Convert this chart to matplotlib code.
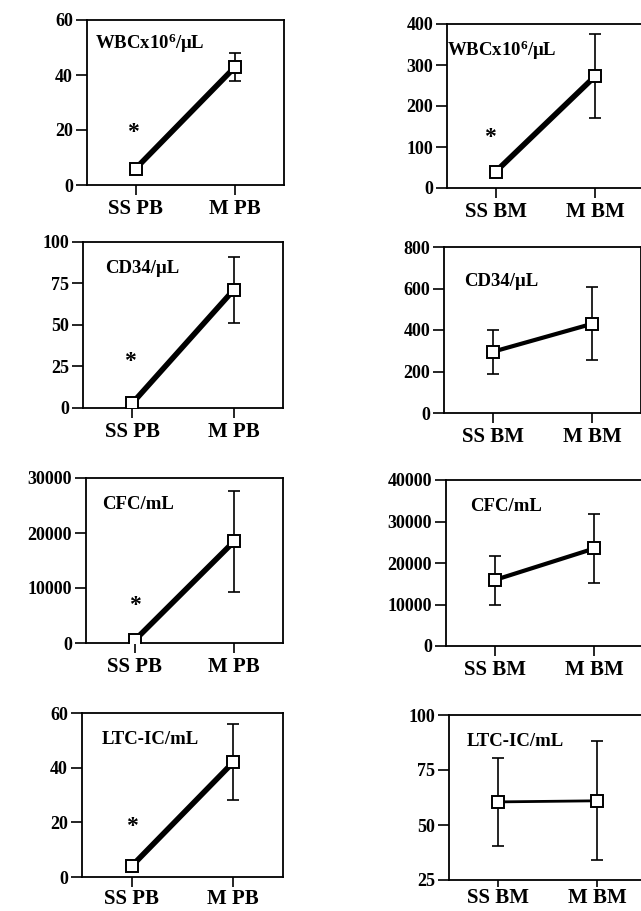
import matplotlib
matplotlib.use("Agg")
import matplotlib.pyplot as plt

plt.rcParams['font.family'] = ['Liberation Serif', 'DejaVu Serif']
plt.rcParams['font.weight'] = 'bold'
plt.rcParams['mathtext.fontset'] = 'custom'
plt.rcParams['mathtext.rm'] = 'Liberation Serif:bold'
plt.rcParams['mathtext.bf'] = 'Liberation Serif:bold'
plt.rcParams['mathtext.it'] = 'Liberation Serif:bold'

# ---- data ----
pb_labels = ["SS PB", "M PB"]
bm_labels = ["SS BM", "M BM"]

wbc_pb_mean = [6, 43]
wbc_pb_err = [0, 5]
wbc_bm_mean = [40, 273]
wbc_bm_err = [0, 103]

cd34_pb_mean = [3, 71]
cd34_pb_err = [0, 20]
cd34_bm_mean = [295, 430]
cd34_bm_err = [105, 175]

cfc_pb_mean = [500, 18500]
cfc_pb_err = [0, 9200]
cfc_bm_mean = [15900, 23500]
cfc_bm_err = [5900, 8200]

ltc_pb_mean = [4, 42]
ltc_pb_err = [0, 14]
ltc_bm_mean = [60.5, 61]
ltc_bm_err = [20, 27]

titles = [r"WBCx10$^{6}$/μL", "CD34/μL", "CFC/mL", "LTC-IC/mL"]

# ---- layout ----
W, H = 641, 911
fig = plt.figure(figsize=(W / 100, H / 100), dpi=100)

def add_ax(x0, x1, y0, y1):
    return fig.add_axes([x0 / W, 1 - y1 / H, (x1 - x0) / W, (y1 - y0) / H])

panels = [
    # (box px), labels, mean, err, ylim, yticks, title, title pos, star, linewidth, xlabel pad
    ((87, 284, 20, 185), pb_labels, wbc_pb_mean, wbc_pb_err, (0, 60), [0, 20, 40, 60], titles[0], (0.04, 0.86), (-0.03, 19), 4, 3),
    ((447, 644, 24, 188), bm_labels, wbc_bm_mean, wbc_bm_err, (0, 400), [0, 100, 200, 300, 400], titles[0], (0.0, 0.84), (-0.06, 122), 4, 3),
    ((83, 283, 242, 408), pb_labels, cd34_pb_mean, cd34_pb_err, (0, 100), [0, 25, 50, 75, 100], titles[1], (0.11, 0.84), (-0.03, 28), 4, 3),
    ((444, 641, 247, 413), bm_labels, cd34_bm_mean, cd34_bm_err, (0, 800), [0, 200, 400, 600, 800], titles[1], (0.1, 0.79), None, 3, 3),
    ((86, 283, 478, 643), pb_labels, cfc_pb_mean, cfc_pb_err, (0, 30000), [0, 10000, 20000, 30000], titles[2], (0.08, 0.84), (0.0, 6800), 4, 3),
    ((446, 643, 480, 646), bm_labels, cfc_bm_mean, cfc_bm_err, (0, 40000), [0, 10000, 20000, 30000, 40000], titles[2], (0.12, 0.84), None, 3, 3),
    ((82, 283, 713, 877), pb_labels, ltc_pb_mean, ltc_pb_err, (0, 60), [0, 20, 40, 60], titles[3], (0.1, 0.84), (0.0, 18.5), 4, 2),
    ((449, 646, 715, 880), bm_labels, ltc_bm_mean, ltc_bm_err, (25, 100), [25, 50, 75, 100], titles[3], (0.09, 0.84), None, 2, 0.5),
]

for box, labels, mean, err, ylim, yticks, title, tpos, star, lw, xpad in panels:
    x0, x1, y0, y1 = box
    ax = add_ax(x0, x1, y0, y1)
    xs = [0, 1]
    ax.errorbar(xs, mean, yerr=err, fmt='none', ecolor='black', elinewidth=1.2,
                capsize=4, capthick=1.2, zorder=2)
    ax.plot(xs, mean, color='black', lw=lw, zorder=3,
            marker='s', markersize=9, markerfacecolor='white',
            markeredgecolor='black', markeredgewidth=1.4)
    ax.set_xlim(-0.49, 1.49)
    ax.set_ylim(*ylim)
    ax.set_yticks(yticks)
    ax.set_yticklabels([str(t) for t in yticks], fontsize=13, fontweight='bold')
    ax.set_xticks(xs)
    ax.set_xticklabels(labels, fontsize=15, fontweight='bold')
    ax.tick_params(axis='y', direction='out', length=8, width=1.2, pad=2)
    ax.tick_params(axis='x', direction='out', length=7 if xpad > 1 else 5,
                   width=1.2, pad=xpad)
    for s in ax.spines.values():
        s.set_linewidth(1.3)
    ax.text(tpos[0], tpos[1], title, transform=ax.transAxes, fontsize=13.5,
            fontweight='bold', ha='left', va='center')
    if star is not None:
        ax.text(star[0], star[1], "*", fontsize=17, fontweight='bold',
                ha='center', va='center')

fig.savefig("out.png", dpi=100)
